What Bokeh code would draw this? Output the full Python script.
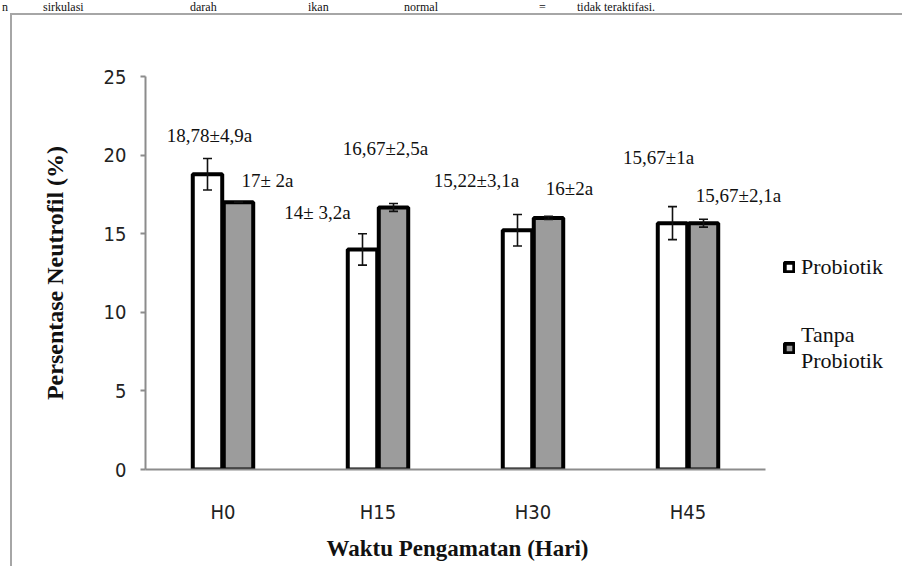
from bokeh.plotting import figure
from bokeh.layouts import column
from bokeh.models import (ColumnDataSource, Range1d, Legend, LegendItem, Div,
                          FixedTicker, Title)
from bokeh.core.properties import value
from bokeh.embed import file_html
from bokeh.resources import INLINE

# ---- data ----
categories = ["H0", "H15", "H30", "H45"]
probiotik = [18.78, 14.0, 15.22, 15.67]
tanpa = [17.0, 16.67, 16.0, 15.67]
err_probiotik = [1.0, 1.0, 1.0, 1.05]
err_tanpa = [0.0, 0.25, 0.1, 0.25]
labels_probiotik = ["18,78±4,9a", "14± 3,2a", "15,22±3,1a", "15,67±1a"]
labels_tanpa = ["17± 2a", "16,67±2,5a", "16±2a", "15,67±2,1a"]
y_ticks = [0, 5, 10, 15, 20, 25]
series_names = ["Probiotik", "Tanpa\nProbiotik"]
x_title = "Waktu Pengamatan (Hari)"
y_title = "Persentase Neutrofil (%)"
top_words = ["n", "sirkulasi", "darah", "ikan", "normal", "=", "tidak teraktifasi."]

# ---- layout (placement only, not data) ----
lab_off_p = [-0.087, -0.39, -0.365, -0.19]
lab_y_p = [21.25, 16.35, 18.38, 19.85]
lab_off_t = [0.287, 0.048, 0.235, 0.326]
lab_y_t = [18.38, 20.42, 17.88, 17.43]
top_word_x = [2, 43, 190, 308, 404, 539, 577]

SERIF = "Liberation Serif"
SANS = "DejaVu Sans Condensed"

W, H = 892, 553
ML, MT, MB = 133, 61, 99
AXIS_PX = 620                       # pixel length of the category axis
n = len(categories)
frame_w = W - ML
x_end = n * frame_w / AXIS_PX
x_pos = [i + 0.5 for i in range(n)]

p = figure(x_range=Range1d(0, x_end), y_range=Range1d(0, 25), width=W, height=H,
           output_backend="svg", toolbar_location=None,
           min_border_left=ML, min_border_right=0, min_border_top=MT,
           min_border_bottom=MB)
p.margin = (0, 0, 0, 10)
p.styles = {"border-top": "2px solid #a6a6a6", "border-left": "2px solid #a6a6a6"}
p.outline_line_color = None
p.xgrid.grid_line_color = None
p.ygrid.grid_line_color = None

BW = 0.19
DOFF = 0.1
src = ColumnDataSource(dict(
    xp=[x - DOFF for x in x_pos], xt=[x + DOFF for x in x_pos],
    pro=probiotik, tan=tanpa,
    pro_hi=[v + e for v, e in zip(probiotik, err_probiotik)],
    pro_lo=[v - e for v, e in zip(probiotik, err_probiotik)],
    tan_hi=[v + e for v, e in zip(tanpa, err_tanpa)],
    tan_lo=[v - e for v, e in zip(tanpa, err_tanpa)]))

r1 = p.vbar(x="xp", top="pro", width=BW, source=src,
            fill_color="white", line_color="black", line_width=4)
r2 = p.vbar(x="xt", top="tan", width=BW, source=src,
            fill_color="#9c9c9c", line_color="black", line_width=4,
            hatch_pattern="weave", hatch_color="black", hatch_alpha=0.6,
            hatch_scale=6, hatch_weight=1.0)

# error bars
for xx, hi, lo in [("xp", "pro_hi", "pro_lo"), ("xt", "tan_hi", "tan_lo")]:
    p.segment(x0=xx, x1=xx, y0=lo, y1=hi, source=src, line_color="#111", line_width=1.6)
    p.scatter(x=xx, y=hi, marker="dash", size=9, source=src, line_color="#111", line_width=1.6)
    p.scatter(x=xx, y=lo, marker="dash", size=9, source=src, line_color="#111", line_width=1.6)

# value labels
lab_src = ColumnDataSource(dict(
    x=[x + o for x, o in zip(x_pos, lab_off_p)] + [x + o for x, o in zip(x_pos, lab_off_t)],
    y=lab_y_p + lab_y_t,
    t=labels_probiotik + labels_tanpa))
p.text(x="x", y="y", text="t", source=lab_src, text_align="center", text_baseline="middle",
       text_font=value(SERIF), text_font_size="19px", text_color="#111")

# y axis
p.yaxis.ticker = FixedTicker(ticks=y_ticks)
p.yaxis.axis_line_color = "#8c8c8c"
p.yaxis.axis_line_width = 2
p.yaxis.major_tick_line_color = "#8c8c8c"
p.yaxis.major_tick_line_width = 2
p.yaxis.major_tick_out = 5
p.yaxis.major_tick_in = 0
p.yaxis.minor_tick_line_color = None
p.yaxis.major_label_standoff = 14
p.yaxis.major_label_text_font = SANS
p.yaxis.major_label_text_font_size = "20px"
p.yaxis.major_label_text_color = "#222"
p.yaxis.axis_label = y_title
p.yaxis.axis_label_text_font = SERIF
p.yaxis.axis_label_text_font_style = "bold"
p.yaxis.axis_label_text_font_size = "24px"
p.yaxis.axis_label_text_color = "#111"
p.yaxis.axis_label_standoff = 33

# x axis (category axis)
p.xaxis.ticker = FixedTicker(ticks=x_pos)
p.xaxis.major_label_overrides = {x: c for x, c in zip(x_pos, categories)}
p.xaxis.bounds = (0, n)
p.xaxis.axis_line_color = "#8c8c8c"
p.xaxis.axis_line_width = 2
p.xaxis.major_tick_line_color = None
p.xaxis.major_tick_out = 0
p.xaxis.major_tick_in = 0
p.xaxis.minor_tick_line_color = None
p.xaxis.major_label_standoff = 30
p.xaxis.major_label_text_font = SANS
p.xaxis.major_label_text_font_size = "20px"
p.xaxis.major_label_text_color = "#222"

p.add_layout(Title(text=x_title, align="left", offset=181, standoff=15,
                   text_font=SERIF, text_font_style="bold", text_font_size="23px",
                   text_color="#111"), "below")

legend = Legend(items=[LegendItem(label=series_names[0], renderers=[r1]),
                       LegendItem(label=series_names[1], renderers=[r2])],
                location=(638, 95), orientation="vertical",
                glyph_width=12, glyph_height=12, label_standoff=6, spacing=42,
                padding=0, margin=0, border_line_alpha=0, background_fill_alpha=0,
                label_text_font=SERIF, label_text_font_size="22px",
                label_text_line_height=1.6, label_text_color="#111")
p.add_layout(legend, "center")

# cropped document line above the framed chart
spans = "".join(
    f'<span style="position:absolute;left:{x}px;top:1px;white-space:nowrap;">{w}</span>'
    for w, x in zip(top_words, top_word_x))
doc = Div(text=f'<div style="position:relative;height:13px;font-family:\'Liberation Serif\';'
               f'font-size:12px;line-height:12px;color:#111;">{spans}</div>',
          width=900, height=13, margin=(0, 0, 0, 0))

layout = column(doc, p, spacing=0)
open("out.html", "w").write(file_html(layout, INLINE))
